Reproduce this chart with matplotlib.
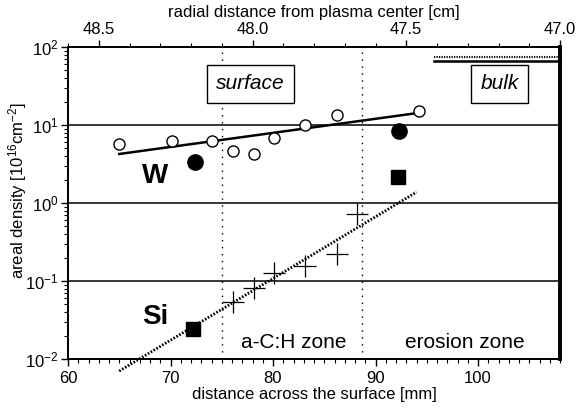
import numpy as np
import matplotlib
matplotlib.use("Agg")
import matplotlib.pyplot as plt
from matplotlib.ticker import MultipleLocator, LogLocator, FormatStrFormatter, NullFormatter

plt.rcParams['font.family'] = ['Liberation Sans', 'DejaVu Sans']
plt.rcParams['mathtext.fontset'] = 'custom'
plt.rcParams['mathtext.rm'] = 'Liberation Sans'
plt.rcParams['mathtext.it'] = 'Liberation Sans:italic'
plt.rcParams['mathtext.bf'] = 'Liberation Sans:bold'

# ── Data ────────────────────────────────────────────────────
# W, open circles
w_open_x = [65.0, 70.1, 74.0, 76.1, 78.1, 80.1, 83.1, 86.2, 94.2]
w_open_y = [5.7, 6.3, 6.2, 4.7, 4.3, 6.75, 10.0, 13.4, 15.1]
# W, filled circles
w_fill_x = [72.4, 92.3]
w_fill_y = [3.4, 8.45]
# Si, crosses
si_cross_x = [76.1, 78.1, 80.1, 83.1, 86.2, 88.2]
si_cross_y = [0.054, 0.081, 0.127, 0.156, 0.222, 0.72]
# Si, filled squares
si_sq_x = [72.2, 92.2]
si_sq_y = [0.0243, 2.15]
# fit lines (end points)
w_fit_x = [65.0, 94.2]
w_fit_y = [4.25, 14.3]
si_fit_x = [65.0, 94.0]
si_fit_y = [0.0070, 1.38]
# bulk level lines
bulk_x = [95.7, 108.0]
bulk_dot_y = [75.0, 75.0]
bulk_sol_y = [66.5, 66.5]
# zone boundaries
zone_x = [75.0, 88.7]

# ── Figure ──────────────────────────────────────────────────
fig = plt.figure(figsize=(5.78, 4.08), dpi=100)
ax = fig.add_axes([68/578, 1 - 359/408, (560 - 68)/578, (359 - 47)/408])

ax.set_xlim(60, 108)
ax.set_yscale('log')
ax.set_ylim(1e-2, 1e2)

for yv in [1e-1, 1e0, 1e1]:
    ax.axhline(yv, color='k', lw=1.1, zorder=1)
for xv in zone_x:
    ax.axvline(xv, color='k', lw=1.0, ls=(0, (1, 4)), zorder=1)

ax.plot(w_fit_x, w_fit_y, 'k-', lw=1.8, zorder=3)
ax.plot(si_fit_x, si_fit_y, color='k', lw=2.0, ls=(0, (0.6, 0.6)), zorder=3, clip_on=False)

ax.plot(w_open_x, w_open_y, 'o', ms=8, mfc='white', mec='k', mew=1.0, zorder=4)
ax.plot(w_fill_x, w_fill_y, 'o', ms=11, color='k', zorder=4)
ax.plot(si_cross_x, si_cross_y, '+', ms=16, color='k', mew=0.9, zorder=4)
ax.plot(si_sq_x, si_sq_y, 's', ms=10, color='k', zorder=4)

ax.plot(bulk_x, bulk_dot_y, color='k', lw=1.5, ls=(0, (0.6, 0.6)), clip_on=False)
ax.plot(bulk_x, bulk_sol_y, color='k', lw=1.8, clip_on=False)

ax.text(77.8, 33.6, 'surface', fontsize=15, style='italic', ha='center', va='center',
        bbox=dict(boxstyle='square,pad=0.45', fc='white', ec='k', lw=1.0), zorder=5)
ax.text(102.1, 33.6, 'bulk', fontsize=15, style='italic', ha='center', va='center',
        bbox=dict(boxstyle='square,pad=0.45', fc='white', ec='k', lw=1.0), zorder=5)

ax.text(68.5, 2.25, 'W', fontsize=20, fontweight='bold', ha='center', va='center')
ax.text(68.5, 0.035, 'Si', fontsize=20, fontweight='bold', ha='center', va='center')
ax.text(82.0, 0.0165, 'a-C:H zone', fontsize=15, ha='center', va='center')
ax.text(98.7, 0.0165, 'erosion zone', fontsize=15, ha='center', va='center')

ax.xaxis.set_major_locator(MultipleLocator(10))
ax.xaxis.set_minor_locator(MultipleLocator(1))
ax.yaxis.set_major_locator(LogLocator(base=10, numticks=10))
ax.yaxis.set_minor_locator(LogLocator(base=10, subs=np.arange(2, 10), numticks=10))
ax.yaxis.set_minor_formatter(NullFormatter())
ax.tick_params(which='major', direction='out', length=5, width=1.0, labelsize=12)
ax.tick_params(axis='y', which='major', pad=2)
ax.tick_params(which='minor', direction='out', length=3, width=0.8)
for s in ['left', 'bottom', 'top']:
    ax.spines[s].set_linewidth(1.3)
ax.spines['right'].set_linewidth(2.6)

ax.set_xlabel('distance across the surface [mm]', fontsize=12, labelpad=1)
ax.set_ylabel('areal density [10$^{16}$cm$^{-2}$]', fontsize=12)
ax.yaxis.set_label_coords(-0.079, 0.54)

# top axis: radial distance
ax2 = ax.twiny()
ax2.set_xlim(48.6, 47.0)
ax2.xaxis.set_major_locator(MultipleLocator(0.5))
ax2.xaxis.set_minor_locator(MultipleLocator(0.1))
ax2.xaxis.set_major_formatter(FormatStrFormatter('%.1f'))
ax2.tick_params(which='major', direction='out', length=5, width=1.0, labelsize=12, pad=2)
ax2.tick_params(which='minor', direction='out', length=3, width=0.8)
for s in ['left', 'bottom', 'top']:
    ax2.spines[s].set_linewidth(1.3)
ax2.spines['right'].set_linewidth(2.6)
ax2.set_xlabel('radial distance from plasma center [cm]', fontsize=12, labelpad=4)

fig.savefig('out.png', dpi=100)
